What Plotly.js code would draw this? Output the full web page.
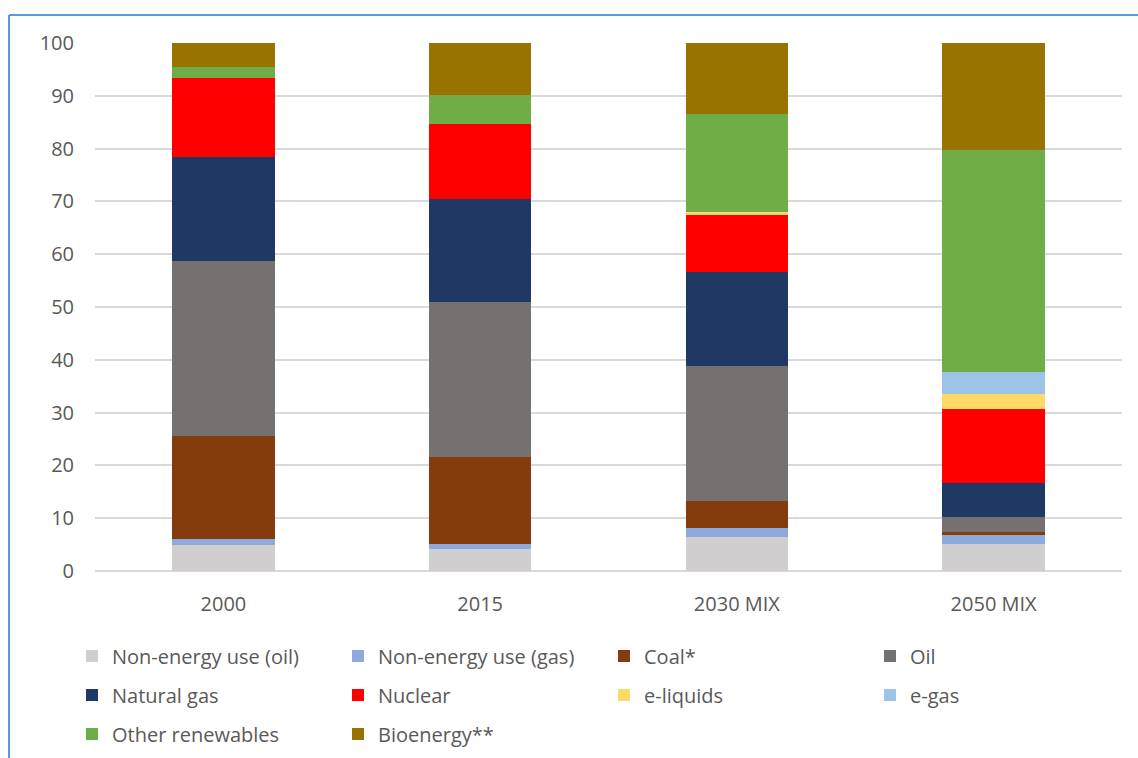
<!DOCTYPE html>
<html>
<head>
<meta charset="utf-8">
<script src="https://cdn.plot.ly/plotly-3.0.1.min.js"></script>
<style>
html,body{margin:0;padding:0;background:#fff;}
#chart{width:1138px;height:758px;}
</style>
</head>
<body>
<div id="chart"></div>
<script>
const categories = ["2000", "2015", "2030 MIX", "2050 MIX"];
const seriesNames = ["Non-energy use (oil)", "Non-energy use (gas)", "Coal*", "Oil", "Natural gas", "Nuclear", "e-liquids", "e-gas", "Other renewables", "Bioenergy**"];
const nonEnergyOil = [4.9, 4.2, 6.5, 5.2];
const nonEnergyGas = [1.2, 1.0, 1.6, 1.7];
const coal = [19.4, 16.3, 5.2, 0.4];
const oil = [33.2, 29.5, 25.6, 3.0];
const naturalGas = [19.8, 19.4, 17.8, 6.3];
const nuclear = [14.9, 14.2, 10.8, 14.1];
const eLiquids = [0, 0, 0.5, 2.8];
const eGas = [0, 0, 0, 4.1];
const otherRenewables = [2.0, 5.6, 18.5, 42.1];
const bioenergy = [4.6, 9.8, 13.5, 20.3];
const yTicks = [0, 10, 20, 30, 40, 50, 60, 70, 80, 90, 100];

const seriesValues = [nonEnergyOil, nonEnergyGas, coal, oil, naturalGas, nuclear, eLiquids, eGas, otherRenewables, bioenergy];
const colors = ["#D0CECE", "#8EA9DB", "#843C0C", "#767171", "#203864", "#FF0000", "#FFD966", "#9DC3E6", "#70AD47", "#997300"];
const legendIds = ["legend","legend","legend","legend","legend2","legend2","legend2","legend2","legend3","legend3"];

const font = {family: "'Open Sans', 'Noto Sans', sans-serif", size: 20, color: "#595959"};

const data = seriesValues.map((vals, i) => ({
  type: "bar",
  name: seriesNames[i],
  x: categories,
  y: vals,
  marker: {color: colors[i], line: {width: 0}},
  legend: legendIds[i],
  hoverinfo: "name+y"
}));

function legendAt(y) {
  return {
    orientation: "h",
    x: (72 - 95) / 1027, xref: "paper", xanchor: "left",
    y: y, yref: "paper", yanchor: "middle",
    entrywidth: 221, entrywidthmode: "pixels",
    traceorder: "normal",
    bgcolor: "rgba(0,0,0,0)",
    font: font,
    itemclick: false, itemdoubleclick: false
  };
}

const layout = {
  width: 1138, height: 758,
  margin: {l: 95, r: 16, t: 43, b: 187, autoexpand: false},
  paper_bgcolor: "#fff",
  plot_bgcolor: "#fff",
  font: font,
  barmode: "stack",
  bargap: 0.6,
  showlegend: true,
  xaxis: {
    type: "category",
    showgrid: false,
    zeroline: false,
    showline: false,
    ticks: "",
    ticklabelstandoff: 19,
    tickfont: font,
    fixedrange: true
  },
  yaxis: {
    range: [0, 100],
    tickvals: yTicks,
    ticktext: yTicks.map(String),
    showgrid: true,
    gridcolor: "#D9D9D9",
    gridwidth: 1.5,
    zeroline: true,
    zerolinecolor: "#D9D9D9",
    zerolinewidth: 1.5,
    showline: false,
    ticks: "",
    ticklabelstandoff: 20,
    tickfont: font,
    fixedrange: true
  },
  legend: legendAt((571 - 656) / 528),
  legend2: legendAt((571 - 695) / 528),
  legend3: legendAt((571 - 734) / 528),
  shapes: [
    {type: "line", xref: "paper", yref: "paper", x0: -86/1027, x1: 1.05, y0: (571-15)/528, y1: (571-15)/528, line: {color: "#5B9BD5", width: 2}},
    {type: "line", xref: "paper", yref: "paper", x0: -86/1027, x1: -86/1027, y0: (571-15)/528, y1: -0.4, line: {color: "#5B9BD5", width: 2}}
  ]
};

Plotly.newPlot("chart", data, layout, {displayModeBar: false});
</script>
</body>
</html>
